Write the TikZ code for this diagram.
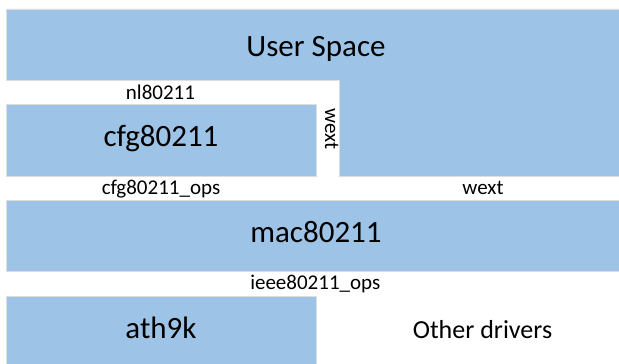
\documentclass[tikz,border=0pt]{standalone}
\usepackage{fontspec}
\setmainfont{Carlito}
\begin{document}
\begin{tikzpicture}[x=1pt,y=1pt,
    layer/.style = {fill=layerblue, draw=black!13, line width=0.8pt, inner sep=0pt},
    big/.style = {font=\fontsize{31}{36}\selectfont, inner sep=0pt,
                  text height=1.25em, text depth=0pt},
    api/.style = {font=\fontsize{21}{25}\selectfont, inner sep=0pt,
                  text height=1.15em, text depth=0pt},
    ]
    \definecolor{layerblue}{RGB}{157,195,230}
    \useasboundingbox (0,0) rectangle (619,364);

    % user space is an L shape wrapping round cfg80211
    \draw[layer] (6,355) -- (623,355) -- (623,188) -- (339.3,188) -- (339.3,283.3) -- (6,283.3) -- cycle;
    \node[big, text height=1.1em] (user) at (316,313) {User Space};

    % kernel layers
    \node[layer, big, minimum width=310, minimum height=72.7] (cfg) at (161,223.6) {cfg80211};
    \node[layer, big, minimum width=620, minimum height=71.7] (mac) at (316,128.2) {mac80211};
    \node[layer, big, minimum width=310, minimum height=72] (ath) at (161,31.8) {ath9k};
    \node[big, font=\fontsize{26}{30}\selectfont] (other) at (482.5,31.5) {Other drivers};

    % interfaces between the layers
    \node[api] (nl) at (160.5,270) {nl80211};
    \node[api, rotate=-90, text height=0.64em, text depth=0.15em] (wextup) at (327.5,235.2) {wext};
    \node[api] (cfgops) at (161,175) {cfg80211\_ops};
    \node[api] (wextdown) at (483,175.5) {wext};
    \node[api] (ieeeops) at (315.3,80) {ieee80211\_ops};

\end{tikzpicture}
\end{document}
